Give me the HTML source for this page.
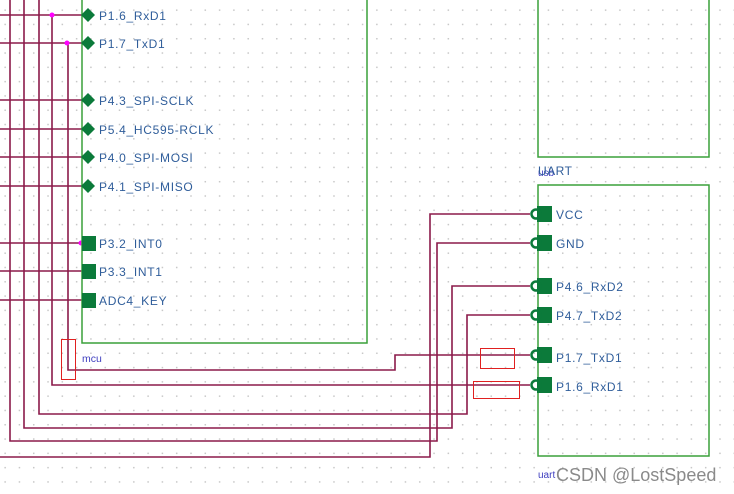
<!DOCTYPE html>
<html><head><style>
body{margin:0;width:734px;height:494px;overflow:hidden;background:#fff;
background-image:radial-gradient(circle,#c8c8c8 0.8px,transparent 1px);background-size:14.3px 14.3px;background-position:-2px 3px;}
svg{position:absolute;left:0;top:0}
text{font-family:"Liberation Sans",sans-serif;font-size:12px;fill:#2f5d9a;letter-spacing:0.7px}
</style></head><body>
<svg width="734" height="494" viewBox="0 0 734 494">
<g stroke="#8b1a4a" stroke-width="1.6" fill="none">
<path d="M0 15H82M0 43H82M0 100H82M0 129H82M0 157H82M0 186H82M0 243H82M0 271H82M0 300H82"/>
<path d="M10 0V441H437V243H530"/>
<path d="M24 0V428H452V286H530"/>
<path d="M39 0V414H467V315H530"/>
<path d="M52 15V385H530"/>
<path d="M68 43V370H395V355H530"/>
<path d="M0 457H430V214H530"/>
</g>
<g fill="#ff00ff"><circle cx="52" cy="15" r="2.5"/><circle cx="67" cy="43" r="2.5"/><circle cx="81" cy="243" r="2.5"/></g>
<g stroke="#3aa03a" stroke-width="1.5" fill="none">
<path d="M82 0V343H367V0"/>
<path d="M538 0V157H709V0"/>
<rect x="538" y="185" width="171" height="271"/>
</g>
<g fill="#0b7a3a">
<path d="M88 8l7 7-7 7-7-7z"/><path d="M88 36l7 7-7 7-7-7z"/><path d="M88 93l7 7-7 7-7-7z"/><path d="M88 122l7 7-7 7-7-7z"/><path d="M88 150l7 7-7 7-7-7z"/><path d="M88 179l7 7-7 7-7-7z"/>
<rect x="82" y="236" width="14" height="15"/><rect x="82" y="264" width="14" height="15"/><rect x="82" y="293" width="14" height="15"/>
</g>
<g fill="#0b7a3a" stroke="#0b7a3a">
<g transform="translate(0,214)"><rect x="537" y="-8" width="15" height="16" stroke="none"/><circle cx="536" cy="0" r="4.5" fill="none" stroke-width="2.5"/></g>
<g transform="translate(0,243)"><rect x="537" y="-8" width="15" height="16" stroke="none"/><circle cx="536" cy="0" r="4.5" fill="none" stroke-width="2.5"/></g>
<g transform="translate(0,286)"><rect x="537" y="-8" width="15" height="16" stroke="none"/><circle cx="536" cy="0" r="4.5" fill="none" stroke-width="2.5"/></g>
<g transform="translate(0,315)"><rect x="537" y="-8" width="15" height="16" stroke="none"/><circle cx="536" cy="0" r="4.5" fill="none" stroke-width="2.5"/></g>
<g transform="translate(0,355)"><rect x="537" y="-8" width="15" height="16" stroke="none"/><circle cx="536" cy="0" r="4.5" fill="none" stroke-width="2.5"/></g>
<g transform="translate(0,385)"><rect x="537" y="-8" width="15" height="16" stroke="none"/><circle cx="536" cy="0" r="4.5" fill="none" stroke-width="2.5"/></g>
</g>
<g>
<text x="99" y="20">P1.6_RxD1</text><text x="99" y="48">P1.7_TxD1</text>
<text x="99" y="105">P4.3_SPI-SCLK</text><text x="99" y="134">P5.4_HC595-RCLK</text>
<text x="99" y="162">P4.0_SPI-MOSI</text><text x="99" y="191">P4.1_SPI-MISO</text>
<text x="99" y="248">P3.2_INT0</text><text x="99" y="276">P3.3_INT1</text><text x="99" y="305">ADC4_KEY</text>
<text x="556" y="219">VCC</text><text x="556" y="248">GND</text>
<text x="556" y="291">P4.6_RxD2</text><text x="556" y="320">P4.7_TxD2</text>
<text x="556" y="362">P1.7_TxD1</text><text x="556" y="391">P1.6_RxD1</text>
<text x="538" y="176" style="fill:#3f3fbf;font-size:10px;letter-spacing:0">usb</text>
<text x="538" y="175" style="letter-spacing:0.5px">UART</text>
<text x="82" y="362" style="fill:#3f3fbf;font-size:10.5px;letter-spacing:0">mcu</text>
<text x="538" y="478" style="fill:#3f3fbf;font-size:10px;letter-spacing:0">uart</text>
<text x="556" y="481" style="fill:#8a8a8a;font-size:18px;letter-spacing:0">CSDN @LostSpeed</text>
</g>
<g fill="none" stroke="#e02020" stroke-width="1">
<rect x="480.5" y="348.5" width="34" height="20"/>
<rect x="473.5" y="381.5" width="46" height="17"/>
<rect x="61.5" y="339.5" width="14" height="40"/>
</g>
</svg>
</body></html>
